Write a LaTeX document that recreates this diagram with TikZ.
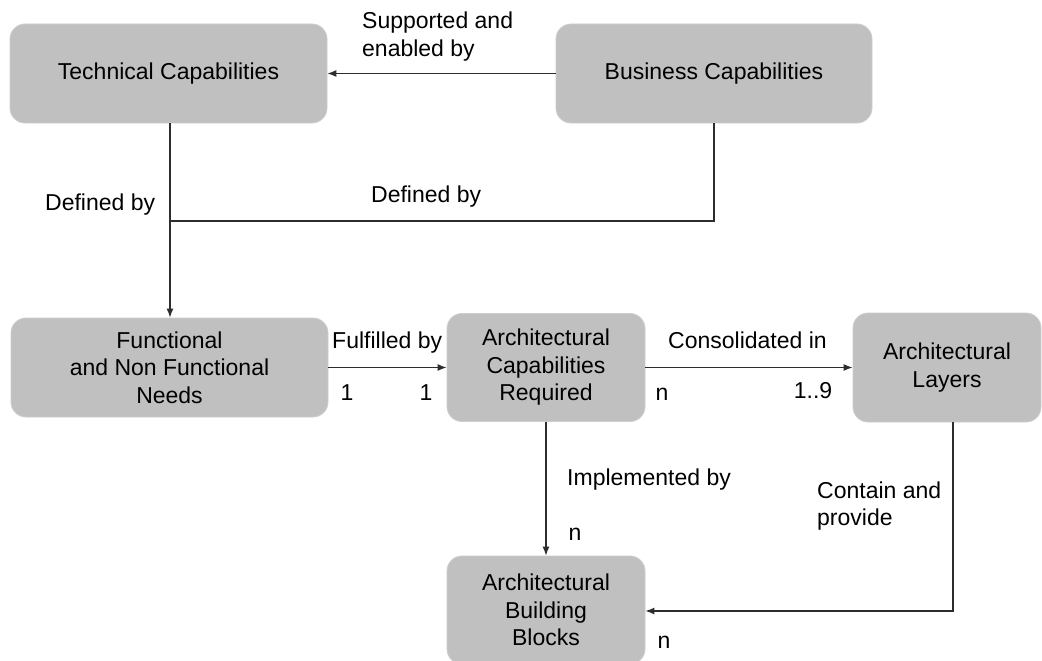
\documentclass[tikz,border=0pt]{standalone}
\usepackage{fontspec}
\setmainfont{Liberation Sans}
\usetikzlibrary{arrows.meta}
\definecolor{boxgray}{RGB}{192,192,192}
\definecolor{boxedge}{RGB}{206,206,206}
\definecolor{linegray}{RGB}{45,45,45}
\newcommand\fsz{\fontsize{23}{27.5}\selectfont}
\begin{document}
\begin{tikzpicture}[x=1pt,y=-1pt,
  box/.style={fill=boxgray, draw=boxedge, line width=0.8pt, rounded corners=15pt,
    inner sep=0pt, align=center, font=\fsz},
  lbl/.style={inner sep=0pt, font=\fsz, text height=16.5pt, text depth=4.8pt},
  mlbl/.style={inner sep=0pt, font=\fsz, align=left},
  conn/.style={draw=linegray, line width=1.2pt},
  arr/.style={conn, -{Latex[length=9pt,width=7pt]}}]
\useasboundingbox (0,0) rectangle (1042,661);
\clip (0,0) rectangle (1042,661);
\fill[white] (0,0) rectangle (1042,661);

% boxes
\node[box, minimum width=317pt, minimum height=99pt] (tech) at (168.5,73.5) {Technical Capabilities};
\node[box, minimum width=316pt, minimum height=99pt] (bus) at (714,73.5) {Business Capabilities};
\node[box, minimum width=317pt, minimum height=99pt] (func) at (169.5,367.5) {Functional\\and Non Functional\\Needs};
\node[box, minimum width=198pt, minimum height=108pt] (acr) at (546,367.5) {Architectural\\Capabilities\\Required};
\node[box, minimum width=188pt, minimum height=109pt] (lay) at (947,367.5) {Architectural\\Layers};
\node[box, minimum width=198pt, minimum height=108pt] (abb) at (546,610) {Architectural\\Building\\Blocks};

% connectors
\draw[arr] (bus.west) -- (tech.east);
\coordinate (j) at (170,221);
\draw[conn] (j |- tech.south) -- (j);
\draw[conn] (bus.south) |- (j);
\draw[arr] (j) -- (j |- func.north);
\draw[arr] (func.east) -- (func.east -| acr.west);
\draw[arr] (acr.east) -- (acr.east -| lay.west);
\draw[arr] (acr.south) -- (abb.north);
\coordinate (k) at (953,611);
\draw[arr] (k |- lay.south) -- (k) -- (k -| abb.east);

% labels
\node[mlbl, anchor=west] (sup) at (362,36.5) {Supported and\\enabled by};
\node[lbl, anchor=west] (def1) at (45,205) {Defined by};
\node[lbl, anchor=west] (def2) at (371,197) {Defined by};
\node[lbl, anchor=west] (ful) at (332,343) {Fulfilled by};
\node[lbl] (one1) at (347,395) {1};
\node[lbl] (one2) at (426,395) {1};
\node[lbl, anchor=west] (con) at (668,343) {Consolidated in};
\node[lbl] (n1) at (662,395) {n};
\node[lbl] (r19) at (813,393) {1..9};
\node[lbl, anchor=west] (imp) at (567,480) {Implemented by};
\node[lbl] (n2) at (575,535) {n};
\node[mlbl, anchor=west] (cont) at (817,506) {Contain and\\provide};
\node[lbl] (n3) at (664,643) {n};
\end{tikzpicture}
\end{document}
